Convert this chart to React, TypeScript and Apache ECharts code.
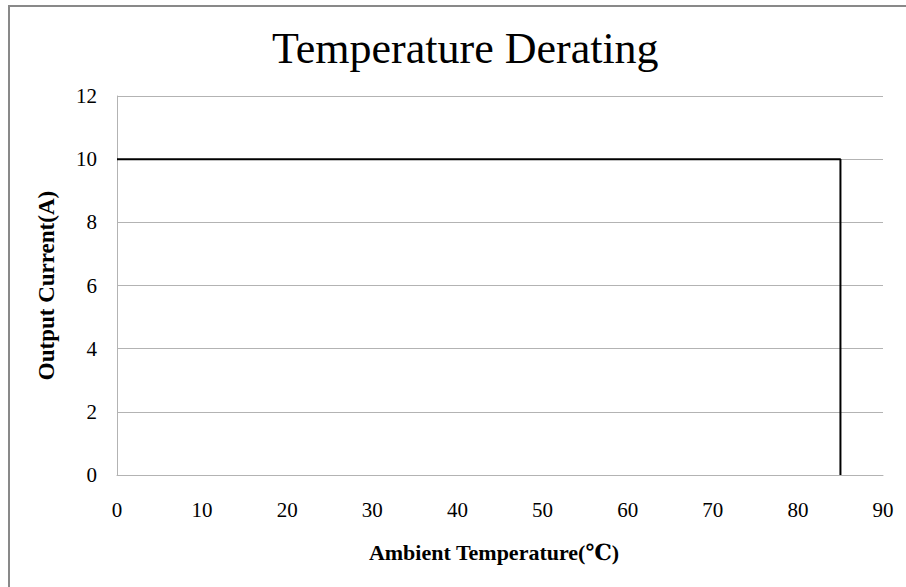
import React, { useEffect, useRef } from "react";
import * as echarts from "echarts";

const titleText = "Temperature Derating";
const xName = "Ambient Temperature(℃)";
const yName = "Output Current(A)";
const temperatures = [0, 85, 85];
const currents = [10, 10, 0];
const xMin = 0, xMax = 90, xStep = 10;
const yMin = 0, yMax = 12, yStep = 2;

const FONT = "'Liberation Serif', 'DejaVu Serif', serif";

export default function App() {
  const ref = useRef<HTMLDivElement>(null);
  useEffect(() => {
    if (!ref.current) return;
    const chart = echarts.init(ref.current, null, { renderer: "svg" });
    chart.setOption({
      animation: false,
      backgroundColor: "#fff",
      graphic: [
        {
          type: "rect",
          shape: { x: 9, y: 6, width: 920, height: 620 },
          style: { fill: "none", stroke: "#898989", lineWidth: 2 },
          silent: true,
        },
      ],
      title: {
        text: titleText,
        left: 267,
        top: 21,
        textStyle: { fontFamily: FONT, fontSize: 44, fontWeight: "normal", color: "#000" },
      },
      grid: { left: 117, right: 23, top: 96, bottom: 112 },
      xAxis: {
        type: "value",
        min: xMin,
        max: xMax,
        interval: xStep,
        name: xName,
        nameLocation: "middle",
        nameGap: 66,
        nameTextStyle: { fontFamily: FONT, fontSize: 22, fontWeight: "bold", color: "#000", padding: [0, 12, 0, 0] },
        axisLine: { show: true, lineStyle: { color: "#b3b3b3", width: 1 } },
        axisTick: { show: false },
        splitLine: { show: false },
        axisLabel: { fontFamily: FONT, fontSize: 21, color: "#000", margin: 24 },
      },
      yAxis: {
        type: "value",
        min: yMin,
        max: yMax,
        interval: yStep,
        name: yName,
        nameLocation: "middle",
        nameGap: 59,
        nameTextStyle: { fontFamily: FONT, fontSize: 23, fontWeight: "bold", color: "#000" },
        axisLine: { show: true, lineStyle: { color: "#b3b3b3", width: 1 } },
        axisTick: { show: false },
        splitLine: { show: true, lineStyle: { color: "#b3b3b3", width: 1 } },
        axisLabel: { fontFamily: FONT, fontSize: 21, color: "#000", margin: 20 },
      },
      series: [
        {
          type: "line",
          data: temperatures.map((t, i) => [t, currents[i]]),
          symbol: "none",
          lineStyle: { color: "#000", width: 2 },
        },
      ],
    });
    return () => chart.dispose();
  }, []);
  return (
    <div
      ref={ref}
      style={{ position: "fixed", left: 0, top: 0, width: 906, height: 587 }}
    />
  );
}
